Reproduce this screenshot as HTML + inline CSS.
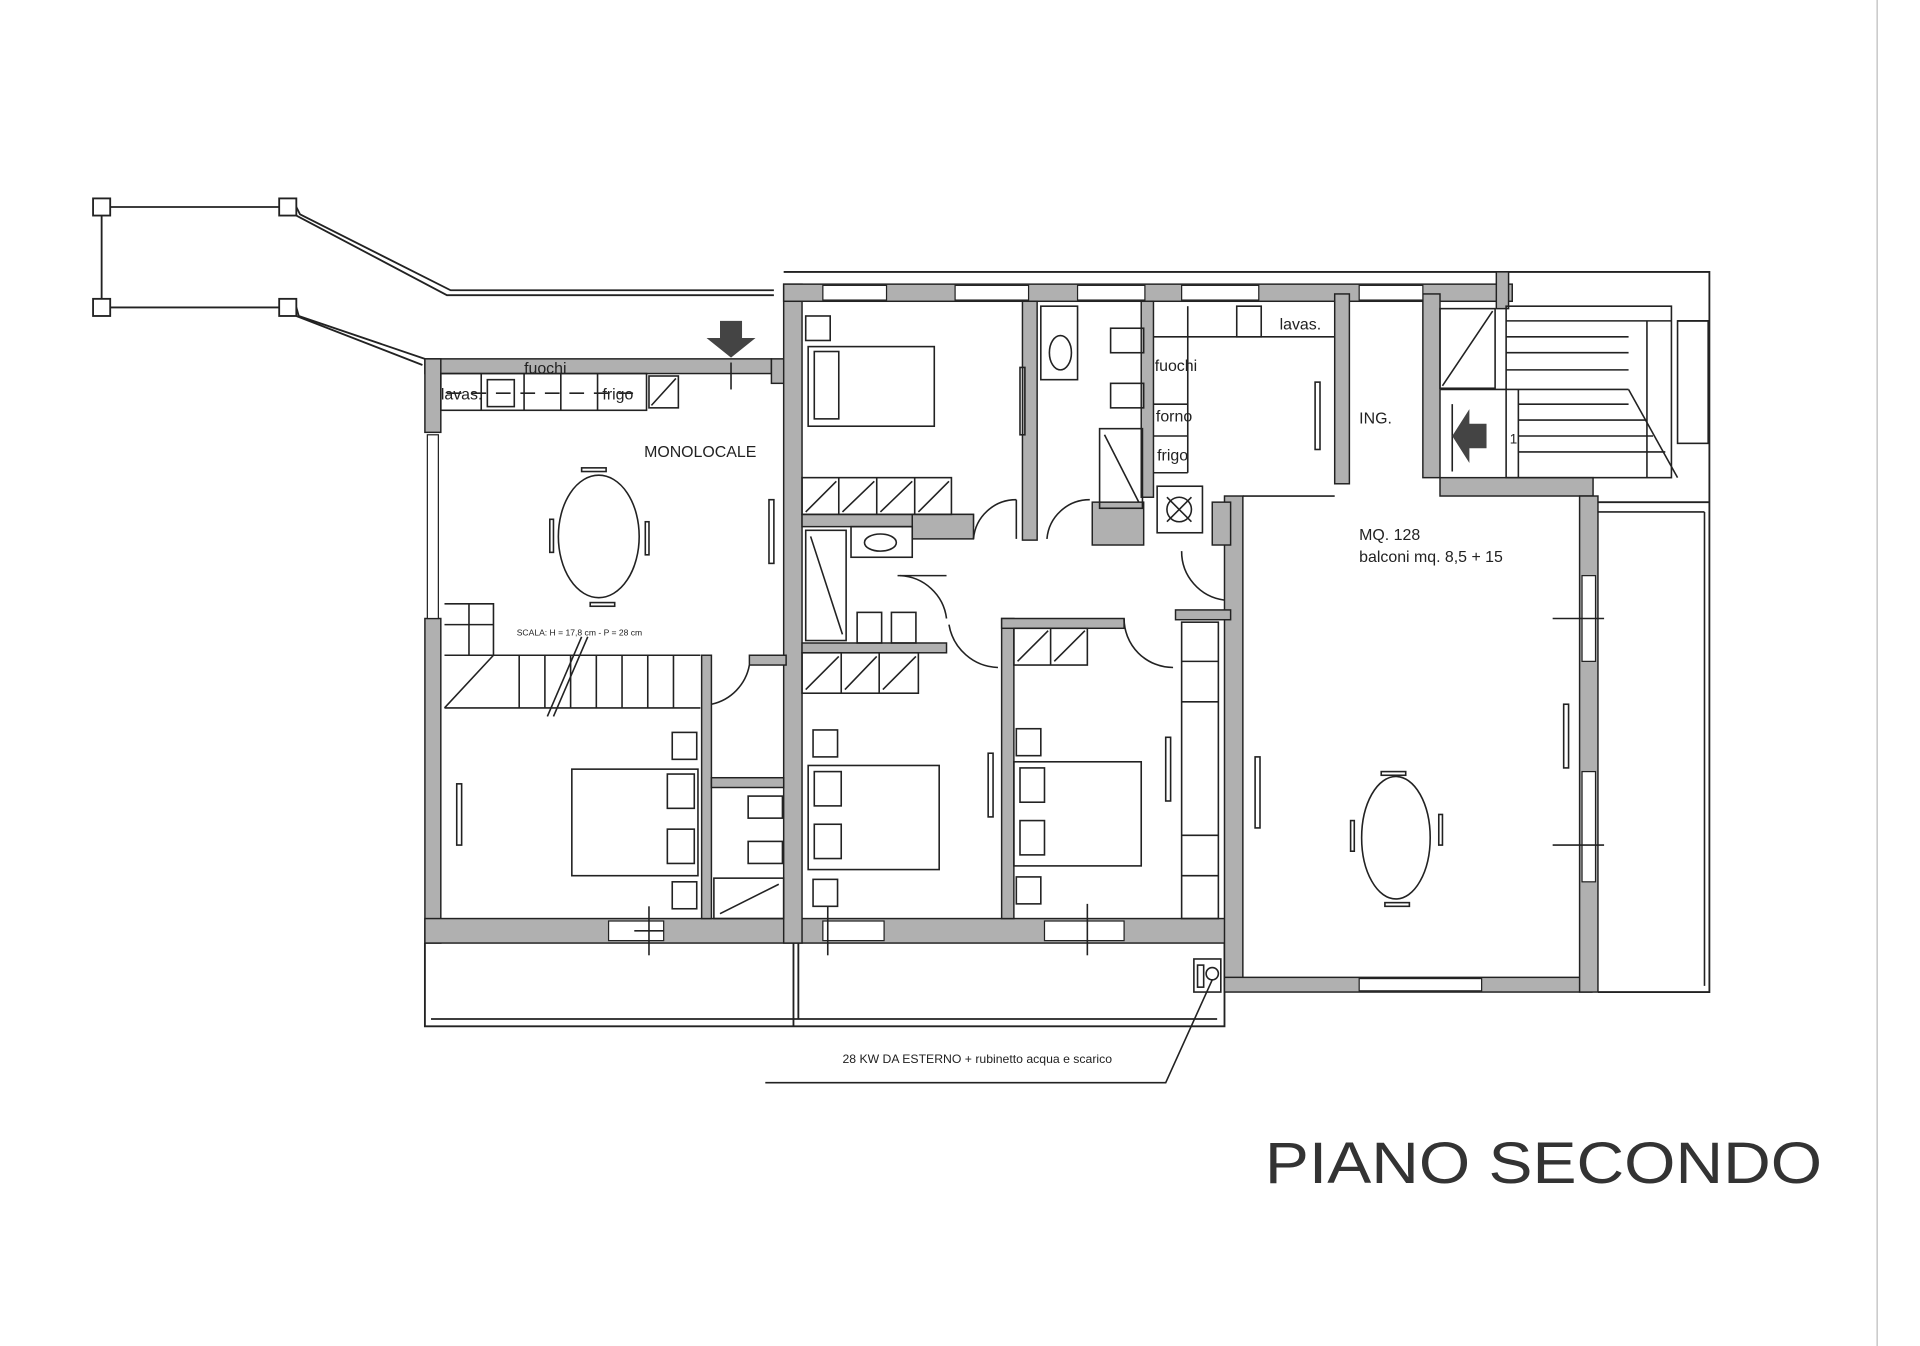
<!DOCTYPE html>
<html><head><meta charset="utf-8"><style>
html,body{margin:0;padding:0;background:#fff;}
svg{display:block;}
text{font-family:"Liberation Sans",sans-serif;fill:#222;}
</style></head><body>
<svg width="1920" height="1346" viewBox="0 0 1568 1099" preserveAspectRatio="none" xmlns="http://www.w3.org/2000/svg">
<rect width="1568" height="1099" fill="#fff"/>
<line x1="1533" y1="0" x2="1533" y2="1099" stroke="#bbb" stroke-width="1"/>
<g stroke="#222" stroke-width="1.5" fill="none">
<!-- walkway top-left -->
<rect x="76" y="162" width="14" height="14"/><rect x="228" y="162" width="14" height="14"/>
<rect x="76" y="244" width="14" height="14"/><rect x="228" y="244" width="14" height="14"/>
<line x1="83" y1="176" x2="83" y2="244"/><line x1="90" y1="169" x2="228" y2="169"/><line x1="90" y1="251" x2="228" y2="251"/>
<polyline points="242,169 245,175 368,237 632,237"/><polyline points="242,176 365,241 632,241"/>
<polyline points="242,251 244,258 347,293"/><polyline points="242,258 345,298"/>
<!-- outer frame -->
<polyline points="640,222 1396,222 1396,810 1305,810"/>
<line x1="1305" y1="410" x2="1396" y2="410"/>
<line x1="1396" y1="262" x2="1370" y2="262"/>
<!-- bottom balcony -->
<polyline points="347,770 347,838 1000,838 1000,770"/>
<line x1="352" y1="832" x2="994" y2="832"/>
<line x1="648" y1="770" x2="648" y2="838"/><line x1="652" y1="770" x2="652" y2="832"/>
</g>
<!-- gray walls -->
<g fill="#b0b0b0" stroke="#222" stroke-width="1.2">
<rect x="347" y="293" width="283" height="12"/>
<rect x="347" y="293" width="13" height="60"/>
<rect x="347" y="505" width="13" height="265"/>
<rect x="347" y="750" width="655" height="20"/>
<rect x="630" y="293" width="12" height="20"/>
<rect x="640" y="232" width="15" height="538"/>
<rect x="640" y="232" width="595" height="14"/>
<rect x="1222" y="222" width="10" height="30"/>
<rect x="835" y="246" width="12" height="195"/>
<rect x="892" y="410" width="42" height="35"/>
<rect x="932" y="246" width="10" height="160"/>
<rect x="1090" y="240" width="12" height="155"/>
<rect x="1162" y="240" width="14" height="150"/>
<rect x="1176" y="390" width="125" height="15"/>
<rect x="1000" y="405" width="15" height="400"/>
<rect x="1000" y="798" width="300" height="12"/>
<rect x="1290" y="405" width="15" height="405"/>
<rect x="655" y="420" width="140" height="10"/>
<rect x="745" y="420" width="50" height="20"/>
<rect x="655" y="525" width="118" height="8"/>
<rect x="818" y="505" width="10" height="245"/>
<rect x="818" y="505" width="100" height="8"/>
<rect x="960" y="498" width="45" height="8"/>
<rect x="573" y="535" width="8" height="215"/>
<rect x="581" y="635" width="59" height="8"/>
<rect x="612" y="535" width="30" height="8"/>
<rect x="990" y="410" width="15" height="35"/>
</g>
<!-- windows (white gaps) -->
<g fill="#fff" stroke="#222" stroke-width="1">
<rect x="672" y="233" width="52" height="12"/><rect x="780" y="233" width="60" height="12"/>
<rect x="880" y="233" width="55" height="12"/><rect x="965" y="233" width="63" height="12"/>
<rect x="1110" y="233" width="52" height="12"/>
<rect x="497" y="752" width="45" height="16"/><rect x="672" y="752" width="50" height="16"/>
<rect x="853" y="752" width="65" height="16"/>
<rect x="1110" y="799" width="100" height="10"/>
<rect x="349" y="355" width="9" height="150"/>
<rect x="1292" y="470" width="11" height="70"/><rect x="1292" y="630" width="11" height="90"/>
</g>
<g stroke="#222" stroke-width="1.3" fill="none">
<!-- monolocale kitchen -->
<rect x="360" y="305" width="168" height="30"/>
<line x1="393" y1="305" x2="393" y2="335"/><line x1="428" y1="305" x2="428" y2="335"/><line x1="458" y1="305" x2="458" y2="335"/><line x1="488" y1="305" x2="488" y2="335"/>
<rect x="398" y="310" width="22" height="22"/>
<line x1="365" y1="321" x2="525" y2="321" stroke-dasharray="12,8"/>
<rect x="530" y="307" width="24" height="26"/><line x1="532" y1="331" x2="552" y2="309"/>
<line x1="597" y1="296" x2="597" y2="318"/>
<!-- table -->
<ellipse cx="489" cy="438" rx="33" ry="50"/>
<rect x="475" y="382" width="20" height="3"/><rect x="482" y="492" width="20" height="3"/>
<rect x="449" y="424" width="3" height="27"/><rect x="527" y="426" width="3" height="27"/>
<rect x="628" y="408" width="4" height="52"/>
<!-- stairs -->
<polyline points="363,493 403,493 403,535 572,535"/>
<line x1="363" y1="578" x2="572" y2="578"/>
<line x1="363" y1="510" x2="403" y2="510"/><line x1="383" y1="493" x2="383" y2="535"/>
<line x1="363" y1="535" x2="403" y2="535"/><line x1="363" y1="578" x2="403" y2="535"/>
<line x1="424" y1="535" x2="424" y2="578"/><line x1="445" y1="535" x2="445" y2="578"/><line x1="466" y1="535" x2="466" y2="578"/>
<line x1="487" y1="535" x2="487" y2="578"/><line x1="508" y1="535" x2="508" y2="578"/><line x1="529" y1="535" x2="529" y2="578"/><line x1="550" y1="535" x2="550" y2="578"/>
<line x1="447" y1="585" x2="475" y2="520"/><line x1="452" y1="585" x2="480" y2="520"/>
<path d="M581,575 A40,40 0 0,0 612,543"/>
<!-- bed 1 -->
<rect x="467" y="628" width="103" height="87"/><rect x="545" y="632" width="22" height="28"/><rect x="545" y="677" width="22" height="28"/>
<rect x="549" y="598" width="20" height="22"/><rect x="549" y="720" width="20" height="22"/>
<rect x="373" y="640" width="4" height="50"/>
<line x1="530" y1="740" x2="530" y2="780"/><line x1="518" y1="760" x2="542" y2="760"/>
<!-- small bath -->
<rect x="611" y="650" width="28" height="18"/><rect x="611" y="687" width="28" height="18"/>
<rect x="583" y="717" width="57" height="33"/><line x1="588" y1="746" x2="636" y2="722"/>
<!-- bedroom top center -->
<rect x="658" y="258" width="20" height="20"/>
<rect x="660" y="283" width="103" height="65"/><rect x="665" y="287" width="20" height="55"/>
<rect x="833" y="300" width="4" height="55"/>
<rect x="655" y="390" width="122" height="30"/>
<line x1="685" y1="390" x2="685" y2="420"/><line x1="716" y1="390" x2="716" y2="420"/><line x1="747" y1="390" x2="747" y2="420"/>
<line x1="658" y1="418" x2="683" y2="393"/><line x1="688" y1="418" x2="714" y2="393"/><line x1="719" y1="418" x2="745" y2="393"/><line x1="750" y1="418" x2="775" y2="393"/>
<path d="M795,440 A35,35 0 0,1 830,408"/><line x1="830" y1="408" x2="830" y2="440"/>
<path d="M855,440 A35,35 0 0,1 890,408"/>
<!-- bath top -->
<rect x="850" y="250" width="30" height="60"/><ellipse cx="866" cy="288" rx="9" ry="14"/>
<rect x="907" y="268" width="27" height="20"/><rect x="907" y="313" width="27" height="20"/>
<rect x="898" y="350" width="35" height="65"/><line x1="902" y1="355" x2="930" y2="410"/>
<!-- kitchen right -->
<line x1="942" y1="275" x2="1090" y2="275"/><line x1="970" y1="250" x2="970" y2="275"/>
<rect x="1010" y="250" width="20" height="25"/>
<line x1="942" y1="330" x2="970" y2="330"/><line x1="942" y1="356" x2="970" y2="356"/><line x1="970" y1="275" x2="970" y2="386"/>
<line x1="942" y1="386" x2="970" y2="386"/>
<rect x="1074" y="312" width="4" height="55"/>
<line x1="1015" y1="405" x2="1090" y2="405"/>
<rect x="945" y="397" width="37" height="38"/><circle cx="963" cy="416" r="10"/><line x1="953" y1="406" x2="973" y2="426"/><line x1="973" y1="406" x2="953" y2="426"/>
<!-- hall/bath mid -->
<rect x="658" y="433" width="33" height="90"/><line x1="662" y1="438" x2="688" y2="518"/>
<rect x="695" y="430" width="50" height="25"/><ellipse cx="719" cy="443" rx="13" ry="7"/>
<rect x="700" y="500" width="20" height="25"/><rect x="728" y="500" width="20" height="25"/>
<path d="M735,470 A40,40 0 0,1 773,505"/><line x1="733" y1="470" x2="773" y2="470"/>
<path d="M965,450 A40,40 0 0,0 1000,490"/>
<path d="M775,510 A42,42 0 0,0 815,545"/>
<path d="M918,505 A40,40 0 0,0 958,545"/>
<!-- bedroom bottom 1 -->
<rect x="655" y="533" width="95" height="33"/><line x1="687" y1="533" x2="687" y2="566"/><line x1="718" y1="533" x2="718" y2="566"/>
<line x1="658" y1="563" x2="685" y2="536"/><line x1="690" y1="563" x2="716" y2="536"/><line x1="721" y1="563" x2="748" y2="536"/>
<rect x="664" y="596" width="20" height="22"/><rect x="664" y="718" width="20" height="22"/>
<rect x="660" y="625" width="107" height="85"/><rect x="665" y="630" width="22" height="28"/><rect x="665" y="673" width="22" height="28"/>
<rect x="807" y="615" width="4" height="52"/>
<line x1="676" y1="740" x2="676" y2="780"/>
<!-- bedroom bottom 2 -->
<rect x="828" y="513" width="60" height="30"/><line x1="858" y1="513" x2="858" y2="543"/>
<line x1="831" y1="540" x2="856" y2="515"/><line x1="861" y1="540" x2="886" y2="515"/>
<rect x="830" y="595" width="20" height="22"/><rect x="830" y="716" width="20" height="22"/>
<rect x="828" y="622" width="104" height="85"/><rect x="833" y="627" width="20" height="28"/><rect x="833" y="670" width="20" height="28"/>
<rect x="965" y="508" width="30" height="242"/><line x1="965" y1="540" x2="995" y2="540"/><line x1="965" y1="573" x2="995" y2="573"/><line x1="965" y1="682" x2="995" y2="682"/><line x1="965" y1="715" x2="995" y2="715"/>
<rect x="952" y="602" width="4" height="52"/><rect x="1025" y="618" width="4" height="58"/>
<line x1="888" y1="738" x2="888" y2="780"/>
<!-- boiler -->
<rect x="975" y="783" width="22" height="27"/><circle cx="990" cy="795" r="5"/><rect x="978" y="788" width="5" height="18"/>
<polyline points="990,800 952,884 625,884"/>
<!-- entrance/stairs -->
<rect x="1176" y="252" width="45" height="65"/><line x1="1178" y1="315" x2="1219" y2="254"/>
<rect x="1230" y="250" width="135" height="140"/>
<line x1="1230" y1="318" x2="1330" y2="318"/>
<line x1="1176" y1="318" x2="1230" y2="318"/>
<line x1="1330" y1="318" x2="1370" y2="390"/>
<line x1="1230" y1="262" x2="1365" y2="262"/><line x1="1230" y1="275" x2="1330" y2="275"/><line x1="1230" y1="288" x2="1330" y2="288"/><line x1="1230" y1="302" x2="1330" y2="302"/>
<line x1="1240" y1="330" x2="1330" y2="330"/><line x1="1240" y1="343" x2="1345" y2="343"/><line x1="1240" y1="356" x2="1350" y2="356"/><line x1="1240" y1="369" x2="1360" y2="369"/>
<line x1="1240" y1="318" x2="1240" y2="390"/><line x1="1345" y1="262" x2="1345" y2="390"/>
<rect x="1370" y="262" width="25" height="100"/>
<line x1="1186" y1="330" x2="1186" y2="385"/>
<!-- living table -->
<ellipse cx="1140" cy="684" rx="28" ry="50"/>
<rect x="1128" y="630" width="20" height="3"/><rect x="1131" y="737" width="20" height="3"/>
<rect x="1103" y="670" width="3" height="25"/><rect x="1175" y="665" width="3" height="25"/>
<rect x="1277" y="575" width="4" height="52"/>
<line x1="1268" y1="505" x2="1310" y2="505"/><line x1="1268" y1="690" x2="1310" y2="690"/>
<line x1="1305" y1="418" x2="1392" y2="418"/><line x1="1392" y1="418" x2="1392" y2="805"/>
</g>
<!-- arrows -->
<polygon points="588,262 606,262 606,276 617,276 597,292 577,276 588,276" fill="#444"/>
<polygon points="1214,346 1214,366 1200,366 1200,378 1186,356 1200,334 1200,346" fill="#444"/>
<g font-size="13">
<text x="428" y="305">fuochi</text>
<text x="360" y="326">lavas.</text>
<text x="492" y="326">frigo</text>
<text x="526" y="373">MONOLOCALE</text>
<text x="943" y="303">fuochi</text>
<text x="944" y="344">forno</text>
<text x="945" y="376">frigo</text>
<text x="1045" y="269">lavas.</text>
<text x="1110" y="346">ING.</text>
<text x="1110" y="441">MQ. 128</text>
<text x="1110" y="459">balconi mq. 8,5 + 15</text>
<text x="1233" y="362" font-size="11">1</text>
</g>
<text x="422" y="519" font-size="7">SCALA:  H = 17,8 cm - P = 28 cm</text>
<text x="688" y="868" font-size="10">28 KW DA ESTERNO + rubinetto acqua e scarico</text>
<text x="1033" y="966" font-size="48" style="fill:#333" textLength="455" lengthAdjust="spacingAndGlyphs">PIANO SECONDO</text>
</svg>
</body></html>
